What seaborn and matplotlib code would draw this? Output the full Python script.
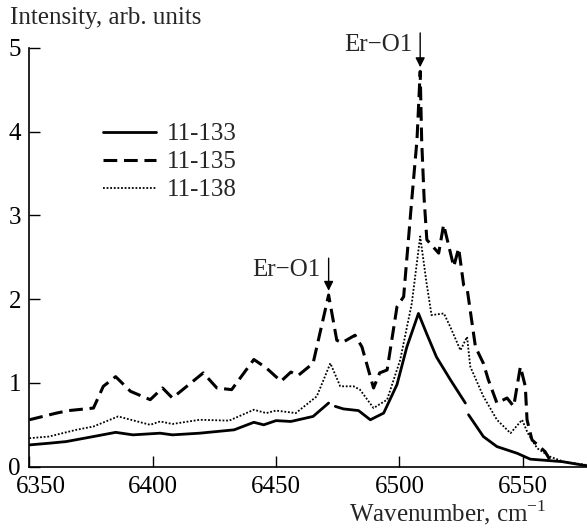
import numpy as np
import pandas as pd
import matplotlib
matplotlib.use("Agg")
import matplotlib.pyplot as plt
import matplotlib.transforms as mtransforms
from matplotlib.lines import Line2D
import seaborn as sns

# Spectra (wavenumber in cm^-1, intensity in arb. units)
s133_wn = [6350, 6358, 6365, 6376, 6385, 6392, 6403, 6408, 6419, 6433, 6441, 6445,
           6450, 6456, 6465, 6471.3,
           6474, 6477.3, 6483.4, 6488.2, 6493.6, 6499, 6503, 6507.7, 6511, 6515,
           6520.6, 6526.7,
           6528, 6534, 6539.5, 6547.7, 6553, 6566, 6576]
s133_int = [0.26, 0.28, 0.30, 0.36, 0.41, 0.38, 0.40, 0.38, 0.40, 0.44, 0.53, 0.50,
            0.55, 0.54, 0.60, 0.76,
            0.72, 0.69, 0.67, 0.56, 0.64, 0.98, 1.43, 1.83, 1.59, 1.31,
            1.04, 0.76,
            0.62, 0.36, 0.24, 0.16, 0.09, 0.06, 0.01]
s133_seg = [0] * 16 + [1] * 12 + [2] * 7

s135_wn = [6350, 6361, 6366, 6376, 6380, 6385, 6391, 6399, 6404, 6408,
           6420.5, 6426, 6432, 6441, 6446, 6452, 6456, 6459, 6465, 6471.3,
           6474.6, 6476.7, 6482, 6484.8, 6489.5, 6492, 6495, 6499, 6501.7, 6505,
           6507.1, 6508.4, 6509.0, 6510.0, 6511.1, 6515.9, 6517.9, 6522, 6524, 6526,
           6527.4, 6530.8, 6534, 6536, 6539.5, 6543.6, 6546.3, 6549, 6551, 6551.7,
           6553.7, 6559, 6561]
s135_int = [0.56, 0.64, 0.67, 0.70, 0.96, 1.075, 0.90, 0.80, 0.94, 0.82,
            1.12, 0.94, 0.92, 1.28, 1.18, 1.02, 1.13, 1.09, 1.235, 2.05,
            1.51, 1.48, 1.57, 1.43, 0.94, 1.12, 1.155, 1.91, 2.03, 3.19,
            3.90, 4.72, 3.90, 3.20, 2.71, 2.55, 2.89, 2.39, 2.61, 2.17,
            2.13, 1.43, 1.235, 1.04, 0.76, 0.82, 0.72, 1.195, 0.96, 0.56,
            0.32, 0.18, 0.08]

s138_wn = [6350, 6358, 6369, 6376, 6386, 6399, 6403, 6408, 6419, 6431,
           6441, 6446, 6450, 6458, 6466.5, 6472, 6476, 6481.4, 6484, 6489.5,
           6495, 6500.3, 6505, 6508.4, 6511, 6513, 6518, 6520.6, 6524.7, 6527.4,
           6528.7, 6534, 6539.5, 6545, 6549.7, 6552, 6555.8, 6561, 6566.5, 6576]
s138_int = [0.34, 0.36, 0.44, 0.48, 0.60, 0.50, 0.54, 0.51, 0.56, 0.55,
            0.68, 0.64, 0.67, 0.64, 0.84, 1.235, 0.96, 0.96, 0.92, 0.70,
            0.80, 1.275, 1.95, 2.75, 2.19, 1.81, 1.83, 1.67, 1.39, 1.55,
            1.195, 0.84, 0.56, 0.40, 0.56, 0.40, 0.22, 0.12, 0.06, 0.02]

samples = ["11-133", "11-135", "11-138"]
x_ticks = [6350, 6400, 6450, 6500, 6550]
y_ticks = [0, 1, 2, 3, 4, 5]

# Er−O1 markers: (wavenumber, peak intensity)
er_o1 = [(6471.3, 2.05), (6508.4, 4.72)]

frames = [
    pd.DataFrame({"wn": s133_wn, "I": s133_int, "sample": samples[0], "seg": s133_seg}),
    pd.DataFrame({"wn": s135_wn, "I": s135_int, "sample": samples[1], "seg": 0}),
    pd.DataFrame({"wn": s138_wn, "I": s138_int, "sample": samples[2], "seg": 0}),
]
df = pd.concat(frames, ignore_index=True)

sns.set_style("ticks")
plt.rcParams["font.family"] = ["Liberation Serif", "DejaVu Serif"]
plt.rcParams["mathtext.fontset"] = "custom"
plt.rcParams["mathtext.rm"] = "Liberation Serif"
FS = 18

fig = plt.figure(figsize=(5.87, 5.29), dpi=100)
ax = fig.add_axes([0.0499, 0.1178, 0.9501, 0.7915])

styles = {
    "11-133": dict(lw=2.0, ls="-"),
    "11-135": dict(lw=2.2, ls=(0, (4.5, 2.2))),
    "11-138": dict(lw=1.3, ls=(0, (1, 1))),
}
for name in samples:
    sub = df[df["sample"] == name]
    sns.lineplot(data=sub, x="wn", y="I", units="seg", estimator=None, sort=False,
                 color="black", linewidth=styles[name]["lw"],
                 linestyle=styles[name]["ls"], ax=ax, legend=False)

ax.set_xlim(6350, 6576)
ax.set_ylim(0, 5)
ax.set_xticks(x_ticks)
ax.set_yticks(y_ticks)
ax.set_xticklabels([str(t) for t in x_ticks], fontsize=FS)
ax.set_yticklabels([str(t) for t in y_ticks], fontsize=FS)
ax.tick_params(direction="in", length=8, width=1, colors="black", pad=7)
ax.tick_params(axis="y", pad=6)
ax.set_xlabel("")
ax.set_ylabel("")
for side in ("top", "right"):
    ax.spines[side].set_visible(False)
for side in ("left", "bottom"):
    ax.spines[side].set_linewidth(1.2)
    ax.spines[side].set_color("black")

# keep the first x label inside the figure
lbl0 = ax.get_xticklabels()[0]
lbl0.set_transform(lbl0.get_transform() +
                   mtransforms.ScaledTranslation(12 / 100, 0, fig.dpi_scale_trans))

# Er−O1 arrows and labels
for (wn, peak), top in zip(er_o1, [2.49, 5.18]):
    ax.annotate("", xy=(wn, peak + 0.05), xytext=(wn, top),
                arrowprops=dict(arrowstyle="-|>", color="black", lw=1.0,
                                mutation_scale=14, shrinkA=0, shrinkB=0),
                annotation_clip=False)
    ax.text(wn - 3.3, top - 0.14, "Er\u2212O1", ha="right", va="center",
            fontsize=FS, clip_on=False)

handles = [Line2D([], [], color="black", lw=styles[n]["lw"], ls=styles[n]["ls"])
           for n in samples]
ax.legend(handles, samples, loc="upper left", bbox_to_anchor=(0.115, 0.845),
          frameon=False, fontsize=FS, handlelength=2.1, handletextpad=0.45,
          labelspacing=0.22, borderaxespad=0)

fig.text(10 / 587, 1 - 18 / 529, "Intensity, arb. units", ha="left", va="center",
         fontsize=FS)
fig.text(547 / 587, 1 - 513 / 529, "Wavenumber, cm$^{-1}$", ha="right",
         va="center", fontsize=FS)

fig.savefig("out.png", dpi=100)
